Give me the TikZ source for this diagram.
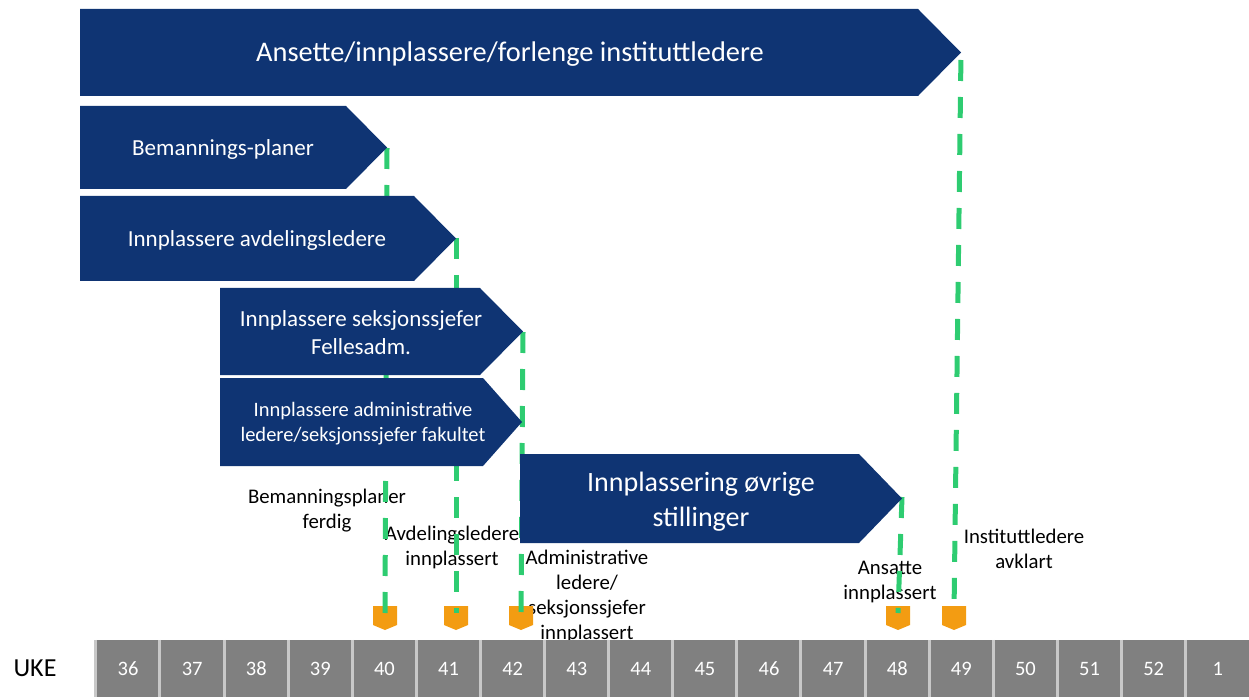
\documentclass[tikz,border=0pt]{standalone}
\usepackage{fontspec}
\setmainfont{Carlito}
\definecolor{navy}{HTML}{0F3473}
\definecolor{msgreen}{HTML}{2ECC71}
\definecolor{msorange}{HTML}{F39C12}
\definecolor{cellgray}{HTML}{808080}
\definecolor{sepgray}{HTML}{C8C8C8}
\newcommand\chevshape[5]{\fill[navy] (#1,#2) -- (#3,#2) -- (#4,{(#2+#5)/2}) -- (#3,#5) -- (#1,#5) -- cycle;}
\newcommand\mstone[2]{\fill[msorange] ({#2-12},606) -- ({#2+12},606) -- ({#2+12},625) -- (#2,630) -- ({#2-12},625) -- cycle;
  \coordinate (#1) at (#2,613);}
\begin{document}
\begin{tikzpicture}[x=1pt,y=-1pt,
  wtext/.style={text=white,align=center,inner sep=0pt},
  btext/.style={text=black,align=center,inner sep=0pt,font=\fontsize{20.8}{25}\selectfont},
  cell/.style={fill=cellgray,minimum width=64.1pt,minimum height=57pt,inner sep=0pt,text=white,font=\fontsize{20.5}{24}\selectfont},
  msl/.style={draw=msgreen,line width=5pt,dash pattern=on 21pt off 16pt},
  sepline/.style={draw=sepgray,line width=3pt}]
\useasboundingbox (0,0) rectangle (1249,700);
\coordinate (t0) at (961,52);
\coordinate (t1) at (387,148);
\coordinate (t2) at (456,238);
\coordinate (t3) at (523,332);
\coordinate (t4) at (902,497);
% labels
\node[btext] (l1) at (327,511) {Bemanningsplaner\\ferdig};
\node[btext] (l2) at (452,547) {Avdelingsledere\\innplassert};
\node[btext] (l3) at (587,596) {Administrative\\ledere/\\seksjonssjefer\\innplassert};
\node[btext] (l4) at (890,582) {Ansatte\\innplassert};
\node[btext] (l5) at (1024,549) {Instituttledere\\avklart};
% milestones
\mstone{m1}{385}
\mstone{m2}{456}
\mstone{m3}{521}
\mstone{m4}{898}
\mstone{m5}{954}
% dashed lines
\draw[msl] (t1) -- (m1);
\draw[msl] (t2) -- (m2);
\draw[msl] (t3) -- (m3);
\draw[msl] (t4) -- (m4);
\draw[msl,dash phase=-8pt] (t0) -- (m5);
% chevrons
\chevshape{80}{9}{918}{961}{96}
\chevshape{80}{106}{346}{387}{189}
\chevshape{80}{196}{414}{456}{281}
\chevshape{220}{288}{480}{523}{375}
\chevshape{220}{378}{483}{522}{466}
\chevshape{520}{454}{859}{902}{543}
% chevron texts
\node[wtext,font=\fontsize{28.4}{34}\selectfont] (a0) at (510,54) {Ansette/innplassere/forlenge instituttledere};
\node[wtext,font=\fontsize{23}{28}\selectfont] (a1) at (223,149) {Bemannings-planer};
\node[wtext,font=\fontsize{23}{28}\selectfont] (a2) at (257,240) {Innplassere avdelingsledere};
\node[wtext,font=\fontsize{23}{28}\selectfont] (a3) at (361,333) {Innplassere seksjonssjefer\\Fellesadm.};
\node[wtext,font=\fontsize{20.5}{25}\selectfont] (a4) at (363,424) {Innplassere administrative\\ledere/seksjonssjefer fakultet};
\node[wtext,font=\fontsize{28}{35}\selectfont] (a5) at (701,502) {Innplassering øvrige\\stillinger};
% timeline
\node[font=\fontsize{26}{30}\selectfont,inner sep=0pt] (uke) at (35,668) {UKE};
\foreach \n [count=\i from 0] in {36,37,38,39,40,41,42,43,44,45,46,47,48,49,50,51,52,1} {
  \node[cell] (c\i) at ({96+64.1*\i+32.05},668.5) {\n};
  \draw[sepline] (c\i.north west) -- (c\i.south west);
}
\end{tikzpicture}
\end{document}
